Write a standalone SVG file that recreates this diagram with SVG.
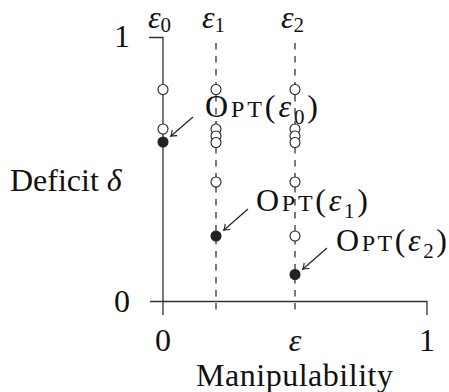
<svg xmlns="http://www.w3.org/2000/svg" width="449" height="392" viewBox="0 0 449 392">
<defs>
<style>
.ax{stroke:#333;stroke-width:1.3;fill:none}
.dash{stroke:#333;stroke-width:1.3;stroke-dasharray:6.5 6.5;fill:none}
.open{fill:#fff;stroke:#222;stroke-width:1.1}
.full{fill:#222;stroke:#222;stroke-width:1.1}
text{font-family:"Liberation Serif","DejaVu Serif",serif;fill:#111;font-size:32px}
.it{font-style:italic}
.sc{font-size:24px}
.sub{font-size:21px}
.arr{stroke:#222;stroke-width:1.2;fill:none;marker-end:url(#ah)}
</style>
<marker id="ah" viewBox="-6 -5 8 10" refX="0" refY="0" markerWidth="8" markerHeight="10" markerUnits="userSpaceOnUse" orient="auto">
<path d="M-5,-3.8 Q-1.5,-0.8 0.5,0 Q-1.5,0.8 -5,3.8" fill="none" stroke="#222" stroke-width="1.1"/>
</marker>
</defs>
<g id="axes">
<path class="ax" d="M149,37.5 H163 V315"/>
<path class="ax" d="M150,301.5 H427 V315"/>
<path class="dash" d="M216,43 V315"/>
<path class="dash" d="M295,43 V315"/>
</g>
<g id="axis-labels">
<text x="130" y="47" text-anchor="end">1</text>
<text x="130" y="312" text-anchor="end">0</text>
<text x="163" y="351" text-anchor="middle">0</text>
<text x="295" y="351" text-anchor="middle" class="it">ε</text>
<text x="427" y="351" text-anchor="middle">1</text>
<text x="196" y="386" font-size="30" textLength="197">Manipulability</text>
<text x="10" y="191">Deficit <tspan class="it">δ</tspan></text>
<text x="148" y="28" font-size="28"><tspan class="it">ε</tspan><tspan class="sub" dy="4">0</tspan></text>
<text x="202" y="28" font-size="28"><tspan class="it">ε</tspan><tspan class="sub" dy="4">1</tspan></text>
<text x="281" y="28" font-size="28"><tspan class="it">ε</tspan><tspan class="sub" dy="4">2</tspan></text>
</g>
<g id="column-0">
<circle class="open" cx="163" cy="89.5" r="5"/>
<circle class="open" cx="163" cy="129" r="5"/>
<circle class="full" cx="163" cy="142" r="5"/>
</g>
<g id="column-1">
<circle class="open" cx="216" cy="89.5" r="5"/>
<circle class="open" cx="216" cy="129" r="5"/>
<circle class="open" cx="216" cy="136" r="5"/>
<circle class="open" cx="216" cy="142.5" r="5"/>
<circle class="open" cx="216" cy="182" r="5"/>
<circle class="full" cx="216" cy="236" r="5"/>
</g>
<g id="column-2">
<circle class="open" cx="295" cy="89.5" r="5"/>
<circle class="open" cx="295" cy="129" r="5"/>
<circle class="open" cx="295" cy="136" r="5"/>
<circle class="open" cx="295" cy="142.5" r="5"/>
<circle class="open" cx="295" cy="182" r="5"/>
<circle class="open" cx="295" cy="236" r="5"/>
<circle class="full" cx="295" cy="274.5" r="5"/>
</g>
<g id="connectors">
<path class="arr" d="M193,117 L171,136"/>
<path class="arr" d="M248,209 L224,230"/>
<path class="arr" d="M327,248 L303,269"/>
</g>
<g id="opt0">
<text x="205" y="117" textLength="113">O<tspan class="sc">PT</tspan>(<tspan class="it">ε</tspan><tspan class="sub" dy="7">0</tspan><tspan dy="-7">)</tspan></text>
</g>
<g id="opt1">
<text x="256" y="211" textLength="112">O<tspan class="sc">PT</tspan>(<tspan class="it">ε</tspan><tspan class="sub" dy="7">1</tspan><tspan dy="-7">)</tspan></text>
</g>
<g id="opt2">
<text x="336" y="251" textLength="111">O<tspan class="sc">PT</tspan>(<tspan class="it">ε</tspan><tspan class="sub" dy="7">2</tspan><tspan dy="-7">)</tspan></text>
</g>
</svg>
